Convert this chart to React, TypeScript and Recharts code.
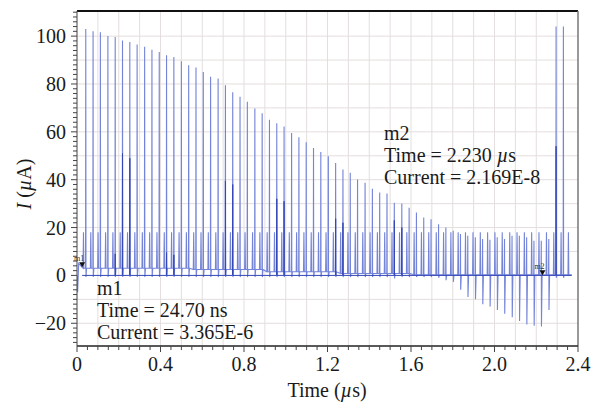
import React from 'react';
import { LineChart, Line, XAxis, YAxis, ReferenceLine, ReferenceDot } from 'recharts';

// pulse times (µs)
const pulseTimes = [
  0.042, 0.077, 0.112, 0.148, 0.183, 0.218, 0.253, 0.288, 0.324, 0.359,
  0.394, 0.429, 0.464, 0.5, 0.535, 0.57, 0.605, 0.64, 0.676, 0.711,
  0.746, 0.781, 0.816, 0.852, 0.887, 0.922, 0.957, 0.992, 1.028, 1.063,
  1.098, 1.133, 1.168, 1.204, 1.239, 1.274, 1.309, 1.344, 1.38, 1.415,
  1.45, 1.485, 1.52, 1.556, 1.591, 1.626, 1.661, 1.696, 1.732, 1.767,
  1.802, 1.837, 1.872, 1.908, 1.943, 1.978, 2.013, 2.048, 2.084, 2.119,
  2.154, 2.189, 2.224, 2.26, 2.295, 2.33,
];

// peak current of each pulse (µA)
const tallPeaks = [
  103, 102, 101.6, 100, 99.6, 98.2, 97.5, 96.5, 95.6, 94.3,
  93.4, 92, 91.3, 89.5, 87.8, 86.9, 85, 83, 82.3, 79.5,
  76.5, 74.7, 72.6, 69.8, 67.8, 65, 63.6, 62.2, 59.5, 57.7,
  55.6, 53.2, 51.6, 49.8, 47, 44.3, 42.9, 40.1, 38.7, 36.2,
  34.6, 34.2, 30.4, 30, 28.3, 26.3, 24.2, 23.5, 21.4, 20,
  18.7, 17.3, 16.6, 15.9, 15.2, 14.9, 15.9, 15.2, 16.6, 16.6,
  15.9, 14.5, 14.5, 15.2, 104, 104,
];

// undershoot after each pulse (µA)
const undershoot = [
  -0.7, -0.7, -0.7, -0.7, -0.7, -0.7, -0.7, -0.7, -0.7, -0.7,
  -0.7, -0.7, -0.7, -0.7, -0.7, -0.7, -0.7, -0.7, -0.7, -0.7,
  -0.7, -0.7, -0.7, -0.7, -0.7, -0.7, -0.7, -0.7, -0.7, -0.7,
  -0.7, -0.7, -0.7, -0.7, -0.7, -0.7, -0.7, -0.7, -0.7, -0.7,
  -0.7, -0.7, -1.3, -0.7, -0.7, -0.7, -0.7, -0.7, -1, -2,
  -2.7, -6, -9, -10, -12, -13, -14.5, -16, -17.5, -19,
  -20.5, -21, -21.4, -14.5, -1, -1,
];

// level between pulses (µA)
const baseLevel = [
  3, 3, 3, 3, 3, 3, 3, 3, 3, 3,
  3, 3, 3, 3, 3, 2.5, 2.5, 2.5, 2.5, 2.5,
  2.5, 2.5, 2.5, 2.5, 2.5, 1.5, 1.5, 1.5, 1.5, 1.5,
  1.5, 1.5, 1.5, 1.5, 1.5, 0.8, 0.8, 0.8, 0.8, 0.8,
  0.8, 0.8, 0.8, 0.8, 0.8, 0.3, 0.3, 0.3, 0.3, 0.3,
  0.3, 0.3, 0.3, 0.3, 0.3, 0.3, 0.3, 0.3, 0.3, 0.3,
  0.3, 0.3, 0.3, 0.3, 0.3, 0.3,
];

const shortPeak = 18;
const lastShortTime = 2.354;

// darker overlay trace: pulse index -> peak
const midPulse = [5, 6, 7, 12, 13, 20, 21, 27, 28, 35, 36, 43, 44, 65];
const midValue = [9, 51, 49, 9.6, 8.6, 39.5, 38, 32, 31, 23.7, 22, 23, 20, 54];

const yTicks: number[] = [];
for (let v = -28; v <= 110; v += 2) yTicks.push(v);
const xTicks: number[] = [];
for (let k = 0; k <= 48; k++) xTicks.push(+(k * 0.05).toFixed(2));
const hGrid = [-20, -10, 10, 20, 30, 40, 50, 60, 70, 80, 90, 100];
const vGrid: number[] = [];
for (let k = 1; k <= 23; k++) vGrid.push(+(k * 0.1).toFixed(1));

const trace: { t: number; i: number }[] = [
  { t: 0, i: 0 },
  { t: 0.003, i: -7 },
  { t: 0.008, i: 5 },
  { t: 0.0247, i: 3.365 },
];
pulseTimes.forEach((t, k) => {
  const b = baseLevel[k];
  trace.push(
    { t: t - 0.013, i: b },
    { t: t - 0.011, i: shortPeak },
    { t: t - 0.009, i: b },
    { t: t - 0.001, i: b },
    { t, i: tallPeaks[k] },
    { t: t + 0.001, i: undershoot[k] },
    { t: t + 0.004, i: b },
  );
});
trace.push(
  { t: lastShortTime - 0.002, i: 0.3 },
  { t: lastShortTime, i: shortPeak },
  { t: lastShortTime + 0.002, i: 0.3 },
  { t: 2.37, i: 0.3 },
);

const overlay: { t: number; i: number }[] = [{ t: 0.0247, i: 0 }];
midPulse.forEach((p, k) => {
  const t = pulseTimes[p - 1];
  overlay.push({ t: t - 0.001, i: 0 }, { t, i: midValue[k] }, { t: t + 0.001, i: 0 });
});
overlay.push({ t: 2.37, i: 0 });

const FONT = '"Liberation Serif", "Times New Roman", serif';

const YTick = (props: any) => {
  const { x, y, payload } = props;
  const v = payload.value;
  const major = v % 20 === 0;
  return (
    <g>
      <line x1={x - (major ? 6 : 4)} x2={x} y1={y} y2={y} stroke="#444" strokeWidth={1} />
      {major && (
        <text x={x - 11} y={y} dy={7} textAnchor="end" fontFamily={FONT} fontSize={20} fill="#1a1a1a">
          {v < 0 ? `\u2212${-v}` : v}
        </text>
      )}
    </g>
  );
};

const XTick = (props: any) => {
  const { x, y, payload } = props;
  const v = payload.value;
  const k = Math.round(v / 0.05);
  const major = k % 8 === 0;
  return (
    <g>
      <line x1={x} x2={x} y1={y} y2={y + (major ? 6 : 4)} stroke="#444" strokeWidth={1} />
      {major && (
        <text x={x} y={y + 25} textAnchor="middle" fontFamily={FONT} fontSize={20} fill="#1a1a1a">
          {v === 0 ? '0' : v.toFixed(1)}
        </text>
      )}
    </g>
  );
};

const Marker = (label: string) => (props: any) => {
  const { cx, cy } = props;
  return (
    <g>
      <path d={`M${cx - 3},${cy - 5} L${cx + 3},${cy - 5} L${cx},${cy} Z`} fill="#111" />
      <text x={cx - 3} y={cy - 6} fontFamily={FONT} fontSize={8} fill="#333" textAnchor="middle">
        {label}
      </text>
    </g>
  );
};

export default function App() {
  return (
    <div style={{ position: 'relative', width: 604, height: 406, background: '#fff' }}>
      <style>{`body{margin:0;background:#fff}`}</style>
      <LineChart width={604} height={406} margin={{ top: 11, right: 26, bottom: 0, left: 0 }}>
        <XAxis
          dataKey="t"
          type="number"
          domain={[0, 2.4]}
          ticks={xTicks}
          interval={0}
          tick={<XTick />}
          tickSize={0}
          tickMargin={0}
          tickLine={false}
          axisLine={{ stroke: '#222', strokeWidth: 1.5 }}
          height={60}
          allowDataOverflow
        />
        <YAxis
          type="number"
          domain={[-29.5, 110.5]}
          ticks={yTicks}
          interval={0}
          tick={<YTick />}
          tickSize={0}
          tickMargin={0}
          tickLine={false}
          axisLine={{ stroke: '#444', strokeWidth: 1 }}
          width={77}
          allowDataOverflow
        />
        {hGrid.map((v) => (
          <ReferenceLine key={`h${v}`} y={v} stroke="#e4dede" strokeWidth={1} />
        ))}
        {vGrid.map((v) => (
          <ReferenceLine key={`v${v}`} x={v} stroke="#e4dede" strokeWidth={1} />
        ))}
        <ReferenceLine y={110.5} stroke="#111" strokeWidth={2} />
        <ReferenceLine x={2.4} stroke="#777" strokeWidth={1.5} />
        <Line
          data={trace}
          dataKey="i"
          type="linear"
          stroke="#7484d8"
          strokeWidth={1.1}
          dot={false}
          isAnimationActive={false}
        />
        <Line
          data={overlay}
          dataKey="i"
          type="linear"
          stroke="#3447b8"
          strokeWidth={1}
          dot={false}
          isAnimationActive={false}
        />
        <ReferenceDot x={0.0247} y={3.365} r={3} shape={Marker('m1')} />
        <ReferenceDot x={2.23} y={0.0217} r={3} shape={Marker('m2')} />
      </LineChart>
      <svg
        width={604}
        height={406}
        style={{ position: 'absolute', left: 0, top: 0, pointerEvents: 'none' }}
        fontFamily={FONT}
        fontSize={20}
        fill="#1a1a1a"
      >
        <text x={97} y={295}>m1</text>
        <text x={97} y={317}>Time = 24.70 ns</text>
        <text x={97} y={339}>Current = 3.365E-6</text>
        <text x={384} y={140}>m2</text>
        <text x={384} y={162}>
          Time = 2.230 <tspan fontStyle="italic">µ</tspan>s
        </text>
        <text x={384} y={184}>Current = 2.169E-8</text>
        <text x={327} y={397} textAnchor="middle">
          Time (<tspan fontStyle="italic">µ</tspan>s)
        </text>
        <text x={31} y={184} textAnchor="middle" transform="rotate(-90 31 184)">
          <tspan fontStyle="italic">I</tspan> (<tspan fontStyle="italic">µ</tspan>A)
        </text>
      </svg>
    </div>
  );
}
